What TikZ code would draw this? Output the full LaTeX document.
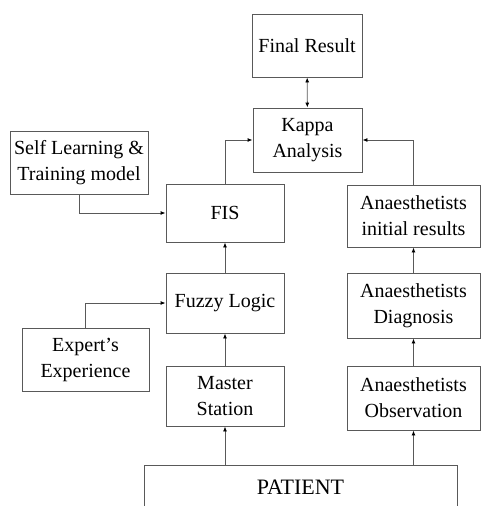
\documentclass[tikz,border=0pt]{standalone}
\usepackage{fontspec}
\setmainfont{Liberation Serif}
\usetikzlibrary{arrows.meta}

\def\boxLineGray{gray!70!black}
\def\midColX{225}
\def\rightColX{413.5}
\def\midBoxWidth{118}
\def\rightBoxWidth{133}

\tikzset{
    stagebox/.style = {
        draw = \boxLineGray, line width = 0.9pt, align = center,
        inner sep = 0pt, font = \fontsize{20}{26}\selectfont
    },
    flowline/.style = {
        draw = \boxLineGray, line width = 0.9pt,
        -{Latex[length = 5pt, width = 4pt, color = black]}
    }
}

\begin{document}
\begin{tikzpicture}[x = 1pt, y = -1pt]
            \clip (0,0) rectangle (481,506);
            %% top row
            \node [stagebox, minimum width = 110, minimum height = 63]
            (final) at (307,45.5) {Final Result};
            \node [stagebox, minimum width = 109, minimum height = 64]
            (kappa) at (307.5,140) {Kappa\\Analysis};
            %% left and middle column
            \node [stagebox, minimum width = 138, minimum height = 63]
            (selflearn) at (79,162.5) {Self Learning \&\\Training model};
            \node [stagebox, minimum width = \midBoxWidth, minimum height = 58]
            (fis) at (\midColX,213) {FIS};
            \node [stagebox, minimum width = \midBoxWidth, minimum height = 60]
            (fuzzy) at (\midColX,303) {Fuzzy Logic};
            \node [stagebox, minimum width = 127, minimum height = 63]
            (expert) at (85.5,359.5) {Expert's\\Experience};
            \node [stagebox, minimum width = \midBoxWidth, minimum height = 60]
            (master) at (\midColX,396) {Master\\Station};
            %% right column
            \node [stagebox, minimum width = \rightBoxWidth, minimum height = 62]
            (initres) at (\rightColX,216) {Anaesthetists\\initial results};
            \node [stagebox, minimum width = \rightBoxWidth, minimum height = 65]
            (diag) at (\rightColX,305.5) {Anaesthetists\\Diagnosis};
            \node [stagebox, minimum width = \rightBoxWidth, minimum height = 64]
            (obs) at (\rightColX,398) {Anaesthetists\\Observation};
            %% patient (open at the bottom)
            \node [stagebox, minimum width = 313, minimum height = 90, anchor = north]
            (patient) at (300.5,465) {};
            \node [font = \fontsize{22}{26}\selectfont, inner sep = 0pt]
            (patientlabel) at (300.5,487) {PATIENT};
            %% connectors
            \draw [flowline, {Latex[length = 5pt, width = 4pt, color = black]}-{Latex[length = 5pt, width = 4pt, color = black]}]
            (kappa) -- (final);
            \draw [flowline] (selflearn.south) |- (fis.west);
            \draw [flowline] (fis.north) |- (kappa.west);
            \draw [flowline] (initres.north) |- (kappa.east);
            \draw [flowline] (fuzzy) -- (fis);
            \draw [flowline] (expert.north) |- (fuzzy.west);
            \draw [flowline] (master) -- (fuzzy);
            \draw [flowline] (patient.north -| master) -- (master);
            \draw [flowline] (diag) -- (initres);
            \draw [flowline] (obs) -- (diag);
            \draw [flowline] (patient.north -| obs) -- (obs);
        \end{tikzpicture}
\end{document}
